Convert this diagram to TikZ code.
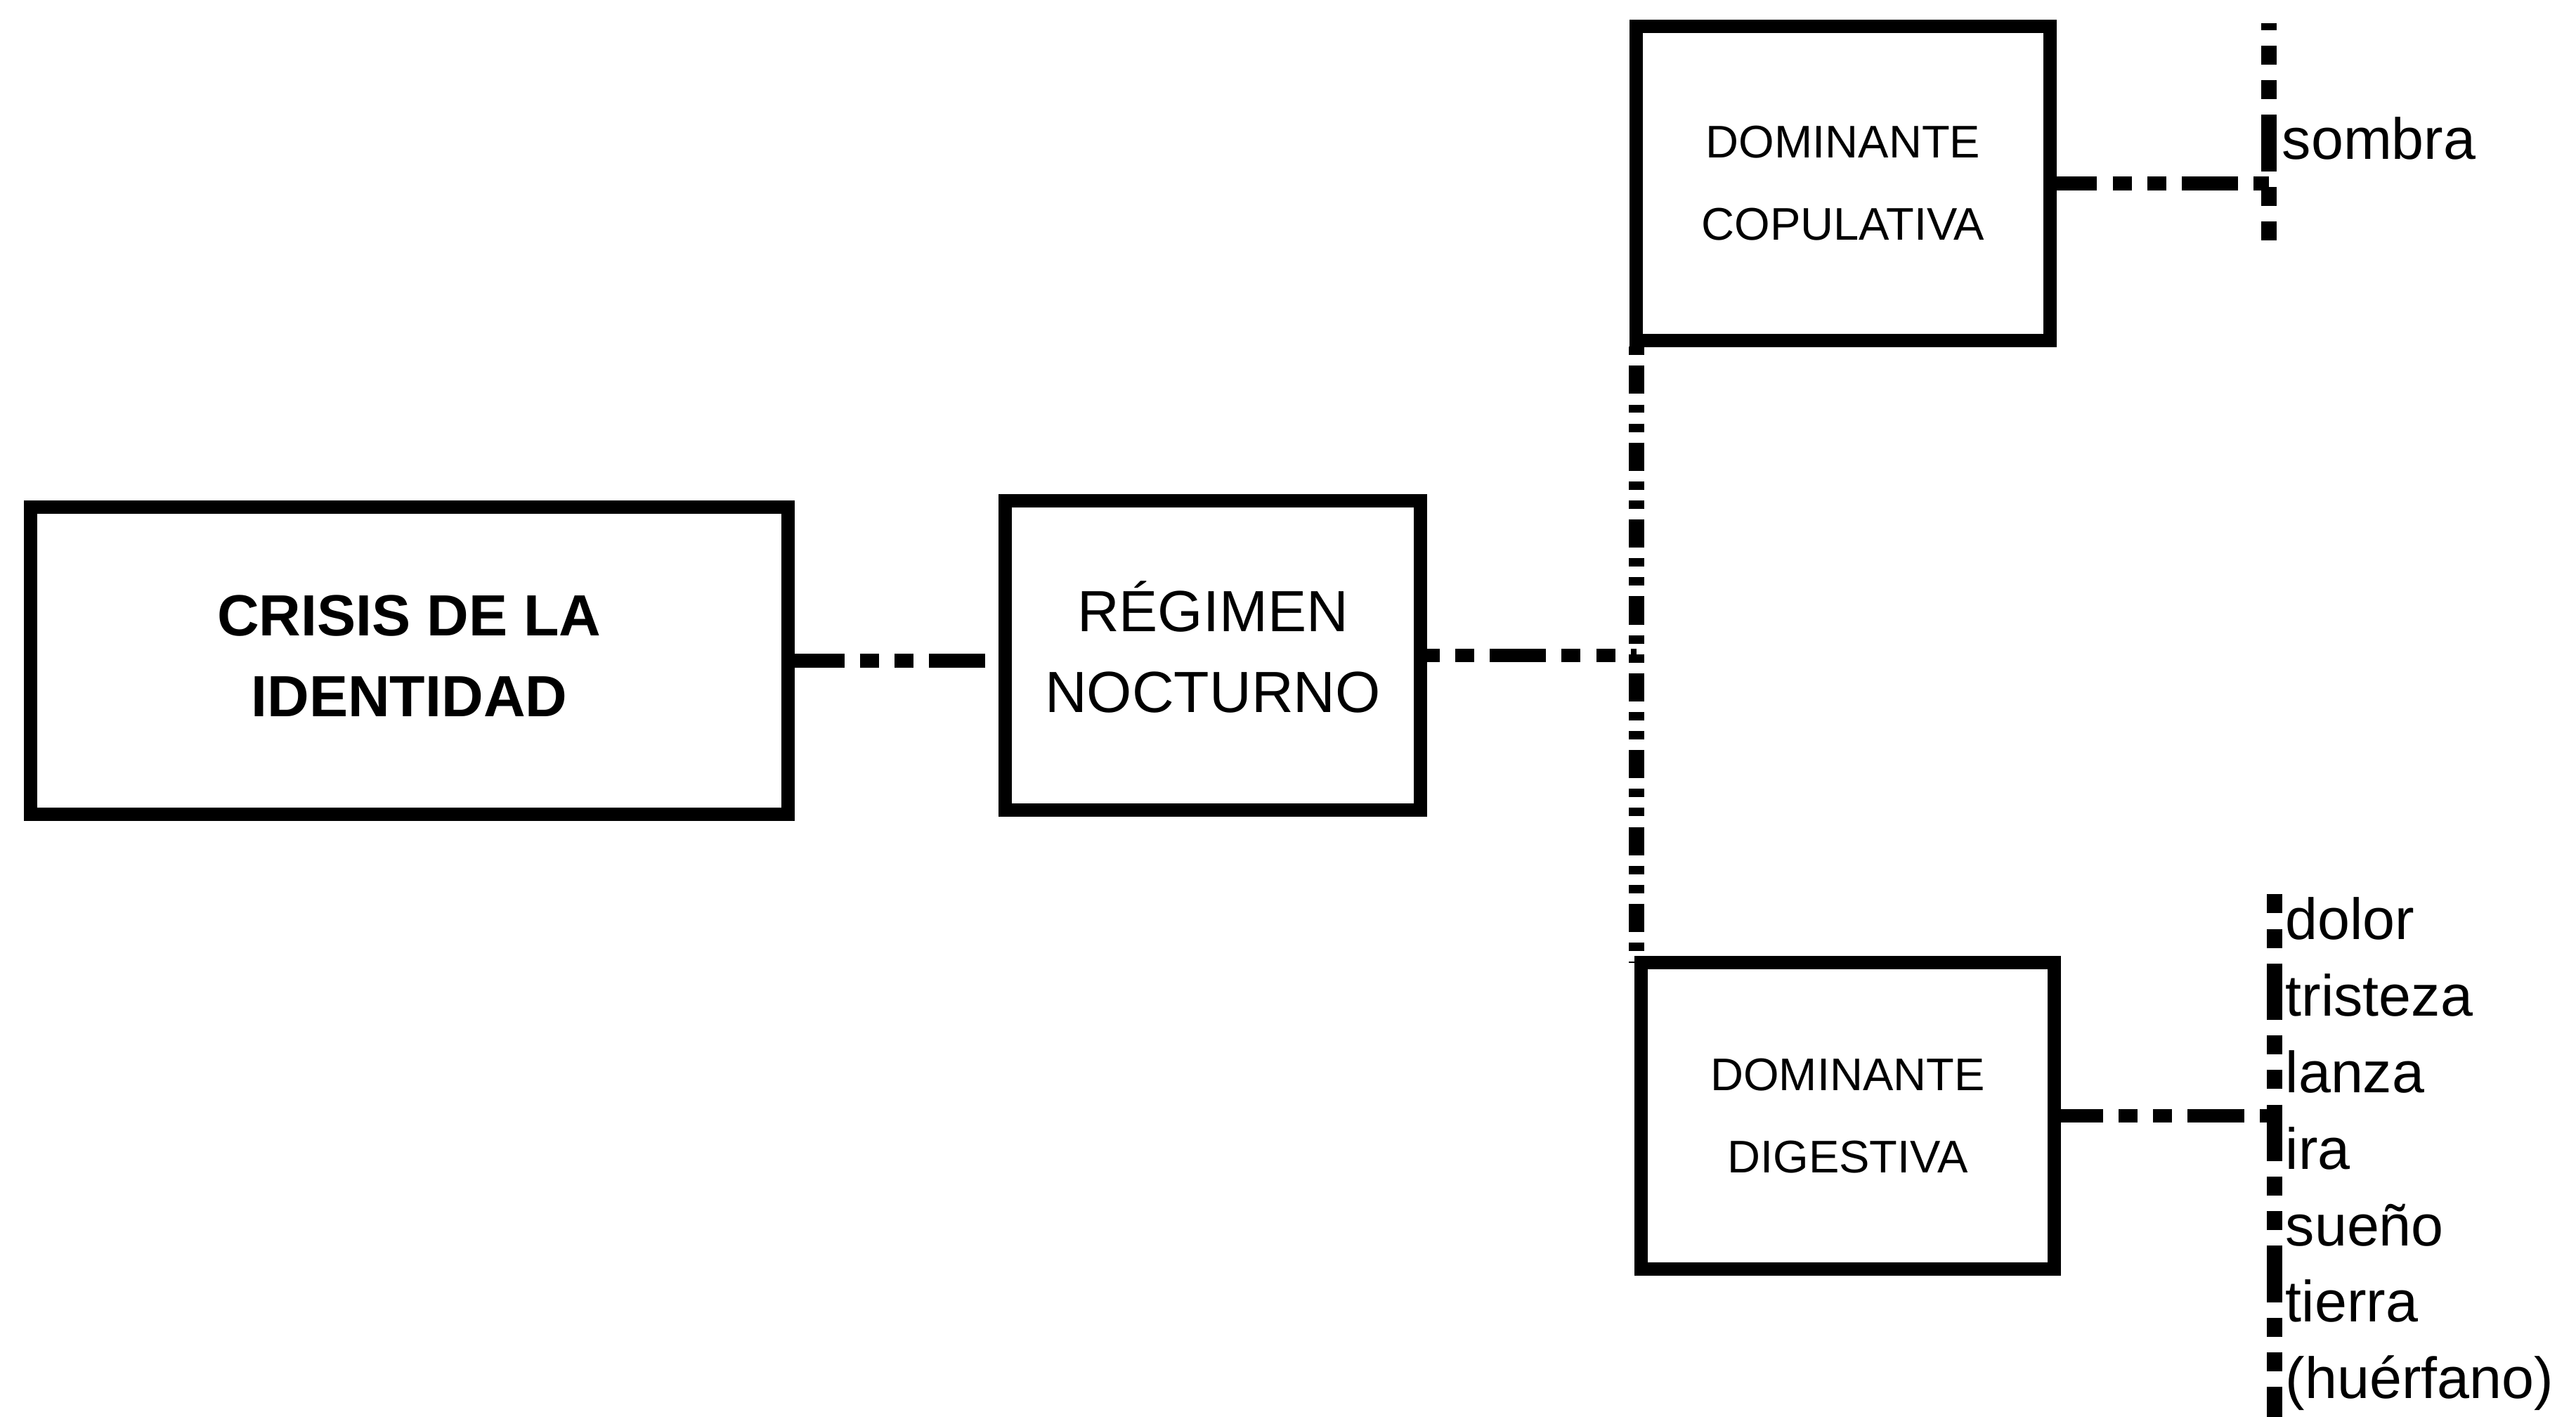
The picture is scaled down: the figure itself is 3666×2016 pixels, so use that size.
\documentclass[tikz,border=0pt]{standalone}
\usepackage{fontspec}
\setmainfont{Liberation Sans}
\usetikzlibrary{calc}
\begin{document}
\begin{tikzpicture}[x=0.01cm,y=0.01cm,
  box/.style={draw, line width=5.4pt, inner sep=0pt, outer sep=0pt, align=center},
  bigtext/.style={font=\fontsize{23.5}{32.8}\selectfont},
  boldtext/.style={font=\fontsize{23.5}{32.8}\selectfont\bfseries},
  smalltext/.style={font=\fontsize{18.5}{33.3}\selectfont},
  link/.style={line width=5.6pt,
    dash pattern=on 22.8pt off 6.3pt on 7.7pt off 6.3pt on 7.7pt off 6.3pt},
  bar/.style={link, line width=6.2pt},
  spine/.style={line width=6.2pt,
    dash pattern=on 11.4pt off 4.3pt on 3.4pt off 4.3pt on 3.4pt off 4.3pt},
  word/.style={anchor=base west, inner sep=0pt, font=\fontsize{23.5}{28}\selectfont}]
\useasboundingbox (0,0) rectangle (3666,2016);

% main boxes
\node[box, boldtext, text depth=4pt, minimum width=10.77cm, minimum height=4.36cm]
  (crisis) at (582.5,1076) {CRISIS DE LA\\IDENTIDAD};
\node[box, bigtext, text depth=7pt, minimum width=5.90cm, minimum height=4.39cm]
  (regimen) at (1726,1083.5) {RÉGIMEN\\NOCTURNO};
\node[box, smalltext, minimum width=5.88cm, minimum height=4.46cm]
  (copul) at (2623,1755) {DOMINANTE\\COPULATIVA};
\node[box, smalltext, minimum width=5.87cm, minimum height=4.35cm]
  (digest) at (2629.5,428.5) {DOMINANTE\\DIGESTIVA};

% brackets on the right
\coordinate (sombraTop) at (3229,1983);
\coordinate (sombraBot) at (3229,1671);
\coordinate (listTop) at (3237,744);
\coordinate (listBot) at (3237,0);

% connectors
\draw[link] (crisis.east) -- (crisis.east -| regimen.west);
\draw[spine, dash phase=20.8pt] (copul.south west) -- (copul.south west |- digest.north);
\draw[link, dash phase=29pt] (regimen.east) -- (regimen.east -| copul.south west);
\draw[link, dash phase=3.7pt] (copul.east) -- (copul.east -| sombraTop);
\draw[bar, dash phase=20pt] (sombraTop) -- (sombraBot);
\draw[link, dash phase=3pt] (digest.east) -- (digest.east -| listTop);
\draw[bar, dash phase=29pt] (listTop) -- (listBot);

% word lists
\node[word] (sombra) at (3247,1789) {sombra};
\foreach \w [count=\i] in {dolor,tristeza,lanza,ira,sueño,tierra,(huérfano)}
  \node[word] (w\i) at (3252,{679-108.8*(\i-1)}) {\w};
\end{tikzpicture}
\end{document}
